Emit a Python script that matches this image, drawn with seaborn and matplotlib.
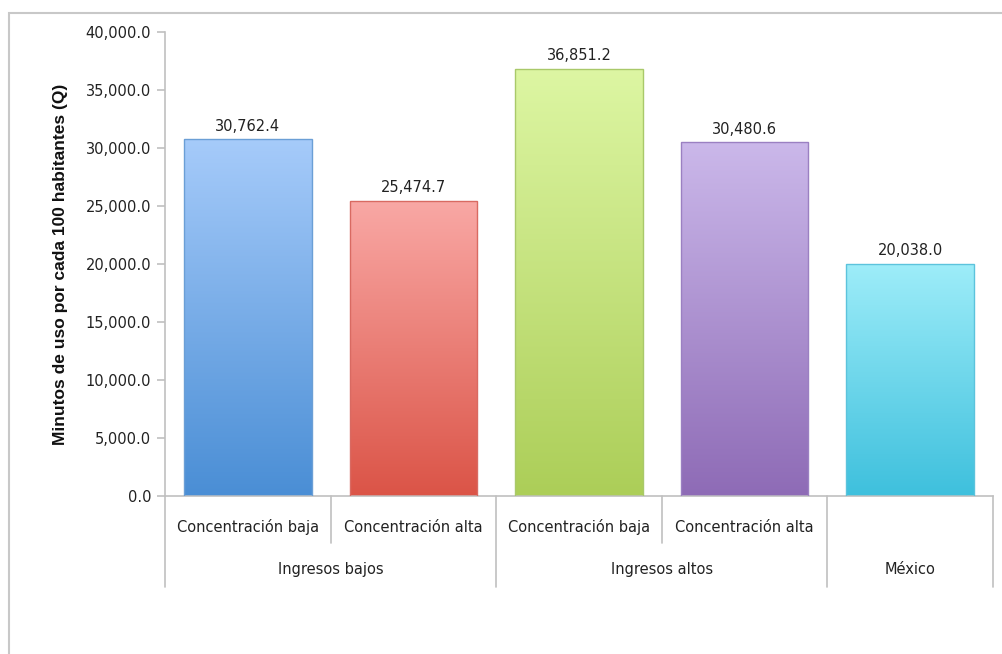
import numpy as np
import pandas as pd
import seaborn as sns
import matplotlib.pyplot as plt
from matplotlib.colors import LinearSegmentedColormap
from matplotlib.patches import Rectangle

# Datos
grupos = ['Ingresos bajos', 'Ingresos bajos', 'Ingresos altos', 'Ingresos altos', 'México']
subcategorias = ['Concentración baja', 'Concentración alta', 'Concentración baja', 'Concentración alta', '']
minutos = [30762.4, 25474.7, 36851.2, 30480.6, 20038.0]

# Colores del degradado (arriba, abajo) y borde de cada barra
color_arriba = ['#a6cbfa', '#f9a8a5', '#ddf6a3', '#cbb8ea', '#9eedf9']
color_abajo = ['#4a8ed5', '#db5447', '#acce58', '#8e6bb6', '#3ec0dd']
color_borde = ['#6b9fd6', '#d96a62', '#a9c96a', '#9b80c2', '#5cc3dc']

df = pd.DataFrame({
    'id': [f'{g}|{s}' for g, s in zip(grupos, subcategorias)],
    'minutos': minutos,
})

sns.set_style('white')
plt.rcParams['font.family'] = ['DejaVu Sans']
texto = dict(fontsize=10.5, color='#222222')

fig = plt.figure(figsize=(10.02, 6.54), dpi=100)
ax = fig.add_axes([0.1647, 0.2416, 0.8263, 0.7094])

sns.barplot(data=df, x='id', y='minutos', hue='id', palette=color_abajo,
            width=0.77, legend=False, ax=ax)

# Degradado vertical dentro de cada barra
for i, p in enumerate(ax.patches):
    x0, y0 = p.get_x(), p.get_y()
    w, h = p.get_width(), p.get_height()
    cmap = LinearSegmentedColormap.from_list('g', [color_abajo[i], color_arriba[i]])
    grad = np.linspace(0, 1, 256).reshape(-1, 1)
    im = ax.imshow(grad, cmap=cmap, aspect='auto', origin='lower',
                   extent=(x0, x0 + w, y0, y0 + h), zorder=2)
    im.set_clip_path(p)
    p.set_facecolor('none')
    p.set_edgecolor(color_borde[i])
    p.set_linewidth(1.0)
    p.set_zorder(3)
    ax.text(x0 + w / 2, y0 + h + 450, f'{minutos[i]:,.1f}', ha='center', va='bottom', **texto)

ax.set_xlim(-0.5, len(minutos) - 0.5)
ax.set_ylim(0, 40000)
ax.set_yticks(np.arange(0, 40001, 5000))
ax.set_yticklabels([f'{v:,.1f}' for v in np.arange(0, 40001, 5000)], **texto)
ax.tick_params(axis='y', length=6, width=1.2, color='#c0c0c0', pad=4, left=True)
ax.set_xticks([])
ax.set_xlabel('')
ax.set_ylabel('Minutos de uso por cada 100 habitantes (Q)', fontsize=12.5, fontweight='bold',
              color='#111111', family='Liberation Sans')
ax.yaxis.set_label_coords(-0.117, 0.5)

for lado in ['top', 'right']:
    ax.spines[lado].set_visible(False)
for lado in ['left', 'bottom']:
    ax.spines[lado].set_color('#c0c0c0')
    ax.spines[lado].set_linewidth(1.2)

# Eje de categorías en dos niveles
trans = ax.get_xaxis_transform()
limites = [-0.5, 0.5, 1.5, 2.5, 3.5, 4.5]
largos = [-0.196, -0.101, -0.196, -0.101, -0.196, -0.196]
for xl, yl in zip(limites, largos):
    ax.plot([xl, xl], [0, yl], transform=trans, color='#c0c0c0', lw=1.2, clip_on=False)

for i, s in enumerate(subcategorias):
    ax.text(i, -0.067, s, transform=trans, ha='center', va='center', **texto)

etiquetas_grupo = ['Ingresos bajos', 'Ingresos altos', 'México']
centros_grupo = [0.5, 2.5, 4.0]
for c, g in zip(centros_grupo, etiquetas_grupo):
    ax.text(c, -0.159, g, transform=trans, ha='center', va='center', **texto)

# Marco exterior del gráfico
fig.patches.append(Rectangle((9 / 1002, -0.1), 1.2, 1 - 13 / 654 + 0.1, transform=fig.transFigure,
                             fill=False, edgecolor='#c8c8c8', lw=1.5))

fig.savefig('out.png', dpi=100)
